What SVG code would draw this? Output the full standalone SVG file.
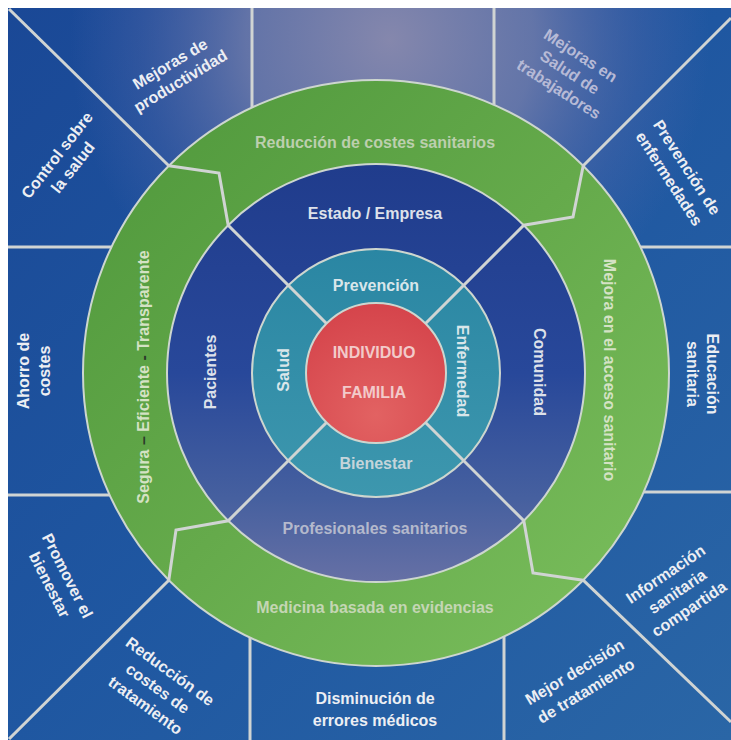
<svg xmlns="http://www.w3.org/2000/svg" width="731" height="740" viewBox="0 0 731 740">
<defs>
  <linearGradient id="bgBase" x1="0" y1="0" x2="1" y2="1">
    <stop offset="0" stop-color="#1a4896"/>
    <stop offset="0.5" stop-color="#1f57a1"/>
    <stop offset="1" stop-color="#2a66a6"/>
  </linearGradient>
  <radialGradient id="bgHaze" cx="390" cy="40" r="320" gradientUnits="userSpaceOnUse">
    <stop offset="0" stop-color="#8e8cae" stop-opacity="0.92"/>
    <stop offset="0.45" stop-color="#7a80ac" stop-opacity="0.75"/>
    <stop offset="0.78" stop-color="#5f6cab" stop-opacity="0.3"/>
    <stop offset="1" stop-color="#5a6ab0" stop-opacity="0"/>
  </radialGradient>
  <linearGradient id="greenG" x1="0" y1="0" x2="1" y2="1">
    <stop offset="0" stop-color="#4e973b"/>
    <stop offset="0.5" stop-color="#65aa4b"/>
    <stop offset="1" stop-color="#7cc05e"/>
  </linearGradient>
  <linearGradient id="blueG" x1="0" y1="0" x2="0" y2="1">
    <stop offset="0" stop-color="#203c8c"/>
    <stop offset="0.5" stop-color="#28489a"/>
    <stop offset="0.8" stop-color="#46609f"/>
    <stop offset="1" stop-color="#6670a5"/>
  </linearGradient>
  <linearGradient id="tealG" x1="0" y1="0" x2="0" y2="1">
    <stop offset="0" stop-color="#2a86a3"/>
    <stop offset="1" stop-color="#3d97ae"/>
  </linearGradient>
  <radialGradient id="redG" cx="0.5" cy="0.8" r="0.8">
    <stop offset="0" stop-color="#e26262"/>
    <stop offset="1" stop-color="#d5444b"/>
  </radialGradient>
  <style>
    .t { font-family: "Liberation Sans", Arial, sans-serif; font-weight: bold; font-size: 16px; text-anchor: middle; }
    .w { fill: #eceef3; }
    .pale { fill: #b7bad6; }
    .gt { fill: #c4d6b4; }
    .gs { fill: #d4e2c4; }
    .bt { fill: #dde1ea; }
    .bp { fill: #b4b9cc; }
    .tt { fill: #d9e6ea; }
    .rt { fill: #f2caca; }
    .dash { fill: #2b3a2b; }
    .ring { stroke: #cdd6cf; stroke-width: 2; }
    .div { stroke: #d0d4d3; stroke-width: 3; fill: none; stroke-linejoin: miter; }
  </style>
</defs>

<rect x="0" y="0" width="731" height="740" fill="#ffffff"/>
<rect x="8" y="8" width="723" height="732" fill="url(#bgBase)"/>
<rect x="8" y="8" width="723" height="732" fill="url(#bgHaze)"/>

<g id="rings">
  <circle id="ring-green" cx="376" cy="373" r="293" fill="url(#greenG)" class="ring"/>
  <circle id="ring-blue" cx="376" cy="373" r="209" fill="url(#blueG)" class="ring"/>
  <circle id="ring-teal" cx="376" cy="373" r="124" fill="url(#tealG)" class="ring"/>
  <circle id="core" cx="376" cy="373" r="70" fill="url(#redG)" class="ring"/>
</g>

<g id="connectors" class="div">
  <line x1="252" y1="8" x2="252" y2="107.5"/>
  <line x1="494" y1="8" x2="494" y2="104.8"/>
  <line x1="250" y1="740" x2="250" y2="637.5"/>
  <line x1="504" y1="740" x2="504" y2="636.6"/>
  <line x1="8" y1="247" x2="111.5" y2="247"/>
  <line x1="8" y1="495" x2="109.6" y2="495"/>
  <line x1="731" y1="247" x2="640.5" y2="247"/>
  <line x1="731" y1="492" x2="643.7" y2="492"/>
  <line x1="9" y1="9" x2="168.8" y2="165.8"/>
  <line x1="731" y1="18" x2="583.2" y2="165.8"/>
  <line x1="731" y1="722" x2="583.2" y2="580.2"/>
  <line x1="9" y1="739" x2="168.8" y2="580.2"/>
  <polyline points="168.8,165.8 219,173 228.2,225.2 326.5,323.5"/>
  <polyline points="583.2,165.8 573,217 523.8,225.2 425.5,323.5"/>
  <polyline points="583.2,580.2 533,573 523.8,520.8 425.5,422.5"/>
  <polyline points="168.8,580.2 176,530 228.2,520.8 326.5,422.5"/>
</g>

<g id="core-labels">
  <text class="t rt" x="374" y="358" font-size="16.5">INDIVIDUO</text>
  <text class="t rt" x="374" y="398" font-size="16.5">FAMILIA</text>
</g>

<g id="prevencion"><text class="t tt" x="376" y="291">Prevención</text></g>
<g id="bienestar"><text class="t tt" x="376" y="469" style="fill:#c4d4da">Bienestar</text></g>
<g id="salud"><text class="t tt" transform="translate(283,370) rotate(-90)" y="6">Salud</text></g>
<g id="enfermedad"><text class="t tt" transform="translate(463,371) rotate(90)" y="6">Enfermedad</text></g>

<g id="estado-empresa"><text class="t bt" x="375" y="219">Estado / Empresa</text></g>
<g id="profesionales"><text class="t bp" x="375" y="534">Profesionales sanitarios</text></g>
<g id="pacientes"><text class="t bt" transform="translate(210,372) rotate(-90)" y="6">Pacientes</text></g>
<g id="comunidad"><text class="t bt" transform="translate(540,372) rotate(90)" y="6">Comunidad</text></g>

<g id="reduccion-costes-sanitarios"><text class="t gt" x="375" y="148" style="fill:#bccfae">Reducción de costes sanitarios</text></g>
<g id="medicina-evidencias"><text class="t gt" x="375" y="613">Medicina basada en evidencias</text></g>
<g id="mejora-acceso"><text class="t gs" transform="translate(610,370) rotate(90)" y="6">Mejora en el acceso sanitario</text></g>
<g id="segura"><text class="t gs" transform="translate(143,377) rotate(-90)" y="6">Segura <tspan class="dash">–</tspan> Eficiente <tspan class="dash">-</tspan> Transparente</text></g>

<g id="control-salud"><g transform="translate(64.5,161) rotate(-52)">
  <text class="t w" y="-4">Control sobre</text>
  <text class="t w" y="16">la salud</text>
</g></g>
<g id="mejoras-productividad"><g transform="translate(175,72) rotate(-31)">
  <text class="t w" y="-4">Mejoras de</text>
  <text class="t w" y="16">productividad</text>
</g></g>
<g id="mejoras-trabajadores"><g transform="translate(570,72) rotate(33)">
  <text class="t pale" y="-14">Mejoras en</text>
  <text class="t pale" y="6">Salud de</text>
  <text class="t pale" y="26">trabajadores</text>
</g></g>
<g id="prevencion-enfermedades"><g transform="translate(678,173) rotate(57)">
  <text class="t w" y="-5">Prevención de</text>
  <text class="t w" y="16">enfermedades</text>
</g></g>
<g id="ahorro-costes"><g transform="translate(34,371) rotate(-90)">
  <text class="t w" y="-5">Ahorro de</text>
  <text class="t w" y="16">costes</text>
</g></g>
<g id="educacion-sanitaria"><g transform="translate(703,374) rotate(90)">
  <text class="t w" y="-4">Educación</text>
  <text class="t w" y="16">sanitaria</text>
</g></g>
<g id="promover-bienestar"><g transform="translate(59,580) rotate(63)">
  <text class="t w" y="-4">Promover el</text>
  <text class="t w" y="16">bienestar</text>
</g></g>
<g id="reduccion-costes-tratamiento"><g transform="translate(158,688) rotate(36)">
  <text class="t w" y="-15">Reducción de</text>
  <text class="t w" y="6">costes de</text>
  <text class="t w" y="27">tratamiento</text>
</g></g>
<g id="disminucion-errores">
  <text class="t w" x="375" y="704">Disminución de</text>
  <text class="t w" x="375" y="726">errores médicos</text>
</g>
<g id="mejor-decision"><g transform="translate(580,681) rotate(-31)">
  <text class="t w" y="-5">Mejor decisión</text>
  <text class="t w" y="17">de tratamiento</text>
</g></g>
<g id="informacion-compartida"><g transform="translate(677,591) rotate(-34)">
  <text class="t w" y="-15" font-size="16.5">Información</text>
  <text class="t w" y="6" font-size="16.5">sanitaria</text>
  <text class="t w" y="27" font-size="16.5">compartida</text>
</g></g>
</svg>
